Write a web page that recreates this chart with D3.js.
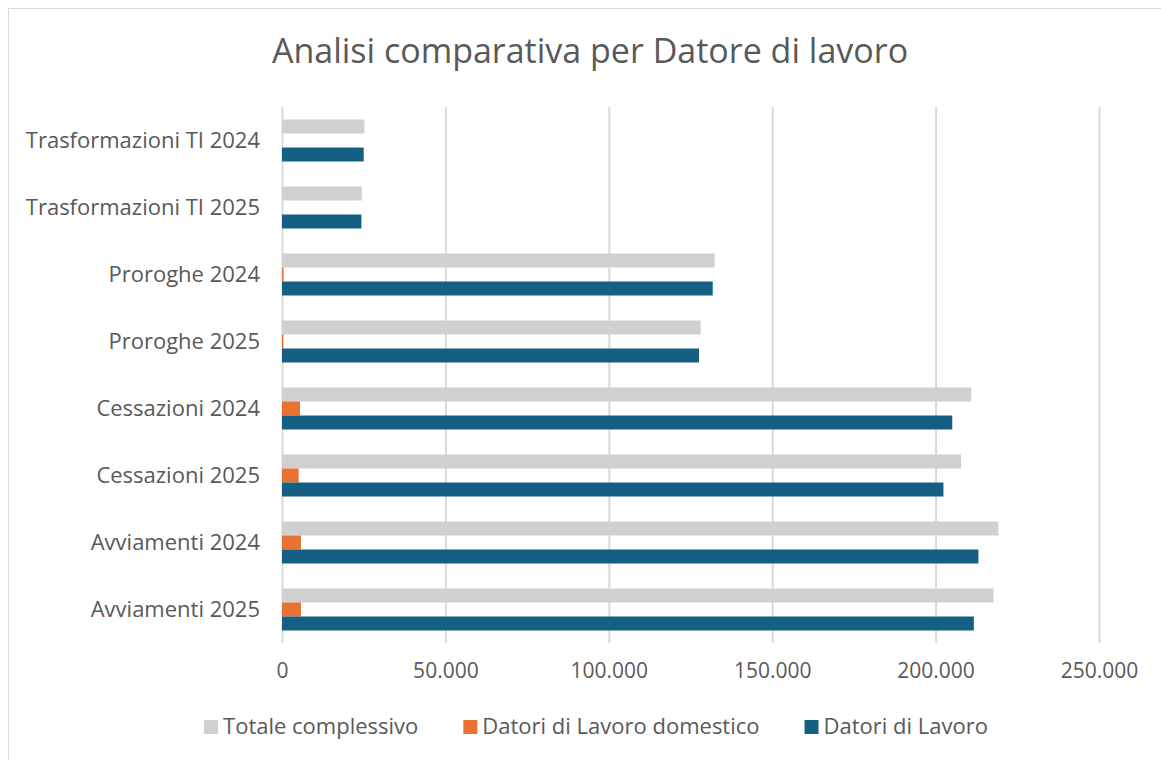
<!DOCTYPE html>
<html>
<head>
<meta charset="utf-8">
<script src="https://cdn.jsdelivr.net/npm/d3@7"></script>
<style>
  html, body { margin: 0; padding: 0; background: #fff; }
  svg { display: block; font-family: "Open Sans", "Liberation Sans", sans-serif; }
</style>
</head>
<body>
<svg id="chart" width="1161" height="760"></svg>
<script>
// categories, top to bottom as shown
const categories = [
    "Trasformazioni TI 2024",
    "Trasformazioni TI 2025",
    "Proroghe 2024",
    "Proroghe 2025",
    "Cessazioni 2024",
    "Cessazioni 2025",
    "Avviamenti 2024",
    "Avviamenti 2025"
];
const seriesNames = ["Totale complessivo", "Datori di Lavoro domestico", "Datori di Lavoro"];
const seriesColors = ["#d0d0d0", "#e97132", "#156082"];

const totaleComplessivo = [25200, 24400, 132400, 128100, 210900, 207800, 219200, 217700];
const datoriDomestico   = [0, 0, 450, 420, 5500, 5100, 5800, 5800];
const datoriLavoro      = [25000, 24300, 131800, 127600, 205100, 202400, 213100, 211700];

const xTicks = [0, 50000, 100000, 150000, 200000, 250000];
const chartTitle = "Analisi comparativa per Datore di lavoro";

const svg = d3.select("#chart");
const width = 1161, height = 760;
const textColor = "#595959";
const gridColor = "#d9d9d9";

// chart frame (left and top edges are the only ones in view)
svg.append("path")
    .attr("d", `M8.5,${height} V8.5 H${width}`)
    .attr("fill", "none")
    .attr("stroke", gridColor)
    .attr("stroke-width", 1);

svg.append("text")
    .attr("x", 590)
    .attr("y", 63)
    .attr("text-anchor", "middle")
    .attr("fill", textColor)
    .style("font-size", "34px")
    .text(chartTitle);

const margin = { top: 107, left: 282 };
const innerWidth = 1099 - margin.left;
const innerHeight = 643 - margin.top;

const g = svg.append("g")
    .attr("transform", `translate(${margin.left},${margin.top})`);

const x = d3.scaleLinear()
    .domain([0, 250000])
    .range([0, innerWidth]);

const y = d3.scaleBand()
    .domain(categories)
    .range([0, innerHeight])
    .paddingInner(0.373)
    .paddingOuter(0.1865);

const ySub = d3.scaleBand()
    .domain(seriesNames)
    .range([0, y.bandwidth()]);

const fmt = v => d3.format(",")(v).replace(/,/g, ".");

// GRID
g.append("g")
    .call(d3.axisBottom(x).tickValues(xTicks).tickSize(innerHeight).tickFormat(""))
    .call(a => a.select(".domain").remove())
    .call(a => a.selectAll("line").attr("stroke", gridColor).attr("stroke-width", 2));

// X TICK LABELS
g.append("g")
    .attr("transform", `translate(0,${innerHeight})`)
    .call(d3.axisBottom(x).tickValues(xTicks).tickSize(0).tickPadding(20).tickFormat(fmt))
    .call(a => a.select(".domain").remove())
    .call(a => a.selectAll("text")
        .attr("fill", textColor)
        .style("font-size", "21px")
        .style("font-family", "\"Open Sans\", sans-serif"));

// CATEGORY LABELS
g.append("g")
    .call(d3.axisLeft(y).tickSize(0).tickPadding(22))
    .call(a => a.select(".domain").remove())
    .call(a => a.selectAll("text")
        .attr("fill", textColor)
        .style("font-size", "22px")
        .style("font-family", "\"Open Sans\", sans-serif"));

// BARS
const rows = categories.map((c, i) => ({
    category: c,
    values: [totaleComplessivo[i], datoriDomestico[i], datoriLavoro[i]]
}));

const groups = g.selectAll(".group")
    .data(rows)
    .enter().append("g")
    .attr("class", "group")
    .attr("transform", d => `translate(0,${y(d.category)})`);

groups.selectAll("rect")
    .data(d => d.values.map((v, j) => ({ name: seriesNames[j], value: v, color: seriesColors[j] })))
    .enter().append("rect")
    .attr("x", x(0))
    .attr("y", d => ySub(d.name))
    .attr("width", d => x(d.value) - x(0))
    .attr("height", ySub.bandwidth())
    .attr("fill", d => d.color);

// LEGEND
const legend = svg.append("g");
const items = legend.selectAll(".item")
    .data(seriesNames)
    .enter().append("g")
    .attr("class", "item");

items.append("rect")
    .attr("width", 14).attr("height", 14)
    .attr("y", 720)
    .attr("fill", (d, i) => seriesColors[i]);

items.append("text")
    .attr("x", 19)
    .attr("y", 734)
    .attr("fill", textColor)
    .style("font-size", "22px")
    .text(d => d);

const gap = 45;
const widths = [];
items.select("text").each(function() { widths.push(19 + this.getComputedTextLength()); });
const total = d3.sum(widths) + gap * (widths.length - 1);
let cx = 596 - total / 2;
items.attr("transform", (d, i) => {
    const t = `translate(${cx},0)`;
    cx += widths[i] + gap;
    return t;
});
</script>
</body>
</html>
